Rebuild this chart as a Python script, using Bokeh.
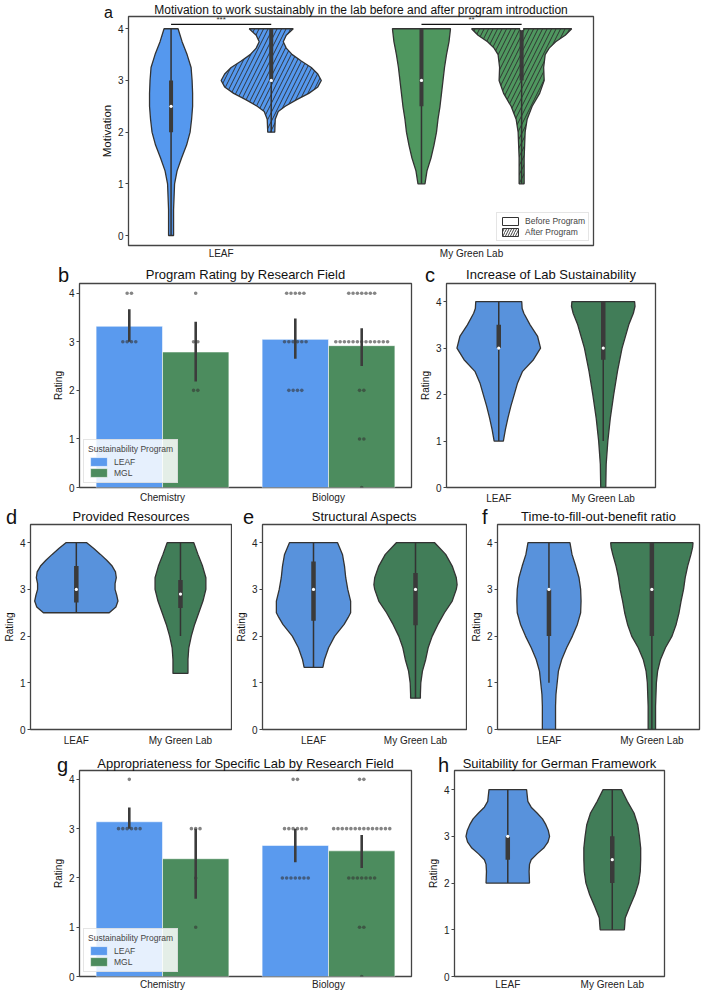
from bokeh.plotting import figure
from bokeh.models import Range1d, FixedTicker, Legend, LegendItem, Div
from bokeh.layouts import column, row
from bokeh.embed import file_html
from bokeh.resources import INLINE
from bokeh.core.properties import value

# ---------------- data ----------------
RATING_TICKS = [0, 1, 2, 3, 4]
VIOLIN_CATS = ["LEAF", "My Green Lab"]
BAR_FIELDS = ["Chemistry", "Biology"]
PROGRAMS = ["LEAF", "MGL"]
PHASES = ["Before Program", "After Program"]
PANEL_LETTERS = ["a", "b", "c", "d", "e", "f", "g", "h"]

# violin outlines: (rating, relative density width)
A_LEAF_BEFORE = [(0.0, .05), (0.5, .05), (0.75, .06), (1.0, .07), (1.25, .12), (1.5, .21), (1.75, .31),
                 (2.0, .38), (2.25, .41), (2.5, .43), (2.75, .43), (3.0, .42), (3.25, .40), (3.5, .32),
                 (3.75, .22), (4.0, .14)]
A_LEAF_AFTER = [(2.0, .07), (2.25, .08), (2.4, .14), (2.5, .28), (2.625, .5), (2.75, .75), (2.875, .93),
                (3.0, 1.0), (3.125, .93), (3.25, .8), (3.375, .6), (3.5, .42), (3.625, .3), (3.75, .24),
                (3.875, .3), (4.0, .44)]
A_MGL_BEFORE = [(1.0, .07), (1.25, .11), (1.5, .19), (1.75, .25), (2.0, .30), (2.25, .33), (2.5, .37),
                (2.75, .40), (3.0, .43), (3.25, .46), (3.5, .50), (3.75, .55), (4.0, .58)]
A_MGL_AFTER = [(1.0, .05), (1.5, .05), (1.75, .06), (2.0, .07), (2.25, .11), (2.5, .21), (2.75, .36),
               (3.0, .45), (3.25, .44), (3.5, .47), (3.625, .55), (3.75, .68), (3.875, .87), (4.0, 1.0)]
# inner box stats: (whisker low, q1, median, q3, whisker high)
A_BOX = [[(0, 2, 2.5, 3, 4), (2, 3, 3, 4, 4)],
         [(1, 2.5, 3, 4, 4), (1, 3, 4, 4, 4)]]
SIG_LABELS = ["***", "**"]

C_LEAF = [(1.0, .11), (1.25, .16), (1.5, .22), (1.75, .29), (2.0, .37), (2.25, .45), (2.5, .57), (2.75, .83),
          (3.0, 1.0), (3.25, .93), (3.5, .75), (3.75, .6), (3.85, .56), (4.0, .55)]
C_MGL = [(0.0, .06), (0.5, .07), (1.0, .11), (1.5, .17), (2.0, .25), (2.5, .34), (3.0, .45), (3.5, .61),
         (3.75, .72), (3.9, .76), (4.0, .75)]
C_BOX = [(1, 3, 3, 3.5, 4), (1, 2.75, 3, 4, 4)]

D_LEAF = [(2.5, .79), (2.625, .95), (2.75, 1.0), (2.875, .97), (3.0, .93), (3.125, .93), (3.25, .96),
          (3.375, .94), (3.5, .86), (3.625, .73), (3.75, .58), (3.875, .42), (4.0, .25)]
D_MGL = [(1.2, .18), (1.5, .18), (1.75, .2), (2.0, .26), (2.25, .34), (2.5, .44), (2.75, .54), (3.0, .61),
         (3.25, .61), (3.5, .53), (3.75, .42), (4.0, .32)]
D_BOX = [(2.5, 2.72, 3.0, 3.5, 4.0), (2.0, 2.6, 2.9, 3.2, 4.0)]

E_LEAF = [(1.33, .23), (1.5, .27), (1.75, .37), (2.0, .52), (2.25, .75), (2.4, .85), (2.5, .91), (2.75, .91),
          (3.0, .84), (3.25, .79), (3.5, .76), (3.75, .71), (4.0, .59)]
E_MGL = [(0.67, .12), (0.75, .12), (1.0, .13), (1.25, .17), (1.5, .25), (1.75, .31), (2.0, .41), (2.25, .55),
         (2.5, .71), (2.75, .9), (3.0, 1.0), (3.1, 1.02), (3.25, 1.0), (3.5, .9), (3.75, .74), (4.0, .47)]
E_BOX = [(1.33, 2.33, 3.0, 3.6, 4.0), (0.67, 2.23, 3.0, 3.35, 4.0)]

F_LEAF = [(0.0, .16), (0.5, .16), (0.75, .17), (1.0, .2), (1.25, .23), (1.5, .31), (1.75, .43), (2.0, .57),
          (2.25, .69), (2.5, .77), (2.75, .78), (3.0, .77), (3.25, .73), (3.5, .65), (3.75, .56), (4.0, .51)]
F_MGL = [(0.0, .09), (0.5, .09), (1.0, .11), (1.25, .14), (1.5, .21), (1.75, .33), (2.0, .49), (2.25, .59),
         (2.5, .66), (2.75, .71), (3.0, .77), (3.25, .81), (3.5, .87), (3.75, .95), (3.9, .99), (4.0, 1.0)]
F_BOX = [(1, 2, 3, 3, 4), (0, 2, 3, 4, 4)]

H_LEAF = [(2.0, .52), (2.25, .51), (2.4, .52), (2.5, .56), (2.625, .7), (2.75, .86), (2.875, .96), (3.0, 1.0),
          (3.125, .97), (3.25, .91), (3.375, .83), (3.5, .7), (3.625, .56), (3.75, .48), (4.0, .45)]
H_MGL = [(1.0, .29), (1.25, .31), (1.5, .42), (1.75, .54), (2.0, .63), (2.25, .67), (2.5, .68), (2.75, .68),
         (3.0, .65), (3.25, .61), (3.5, .52), (3.75, .36), (4.0, .22)]
H_BOX = [(2, 2.5, 3, 3, 4), (1, 2, 2.5, 3, 4)]

# bar panels: counts of answers per rating (0..4) for each research field
B_LEAF_COUNTS = [[0, 0, 0, 4, 2], [0, 0, 4, 6, 5]]
B_MGL_COUNTS = [[0, 0, 2, 2, 1], [1, 2, 2, 13, 7]]
B_LEAF_MEAN = [3.32, 3.05]
B_MGL_MEAN = [2.79, 2.92]
B_LEAF_CI = [(3.0, 3.67), (2.65, 3.48)]
B_MGL_CI = [(2.18, 3.41), (2.5, 3.28)]

G_LEAF_COUNTS = [[0, 0, 0, 6, 1], [0, 0, 7, 6, 2]]
G_MGL_COUNTS = [[0, 1, 1, 3, 0], [1, 2, 7, 14, 2]]
G_LEAF_MEAN = [3.14, 2.66]
G_MGL_MEAN = [2.39, 2.55]
G_LEAF_CI = [(3.0, 3.43), (2.32, 3.0)]
G_MGL_CI = [(1.58, 3.0), (2.2, 2.87)]

# ---------------- style ----------------
FONT = "Liberation Sans"
BLUE_A, GREEN_A = "#5598EE", "#4F975F"
BLUE_V, GREEN_V = "#5892DC", "#417D58"
BLUE_B, GREEN_B = "#5A9AEE", "#4C8C5E"
EDGE = "#333333"
NAN = float("nan")


def make_fig(width, height, xr, yr, borders, title, title_size, standoff, ylabel, xlabels,
             ylab_size="10px", xstandoff=5):
    l, r, t, b = borders
    p = figure(width=width, height=height, x_range=Range1d(*xr), y_range=Range1d(*yr),
               output_backend="svg", toolbar_location=None,
               min_border_left=l, min_border_right=r, min_border_top=t, min_border_bottom=b)
    p.title.text = title
    p.title.align = "center"
    p.title.text_font = FONT
    p.title.text_font_size = title_size
    p.title.text_font_style = "normal"
    p.title.text_color = "#111111"
    p.title.standoff = standoff
    p.xgrid.visible = False
    p.ygrid.visible = False
    p.outline_line_color = "#444444"
    p.outline_line_width = 1.3
    p.background_fill_color = "white"
    p.border_fill_color = "white"
    xt = list(range(len(xlabels)))
    p.xaxis.ticker = FixedTicker(ticks=xt, minor_ticks=[])
    p.xaxis.major_label_overrides = {i: lab for i, lab in zip(xt, xlabels)}
    p.yaxis.ticker = FixedTicker(ticks=RATING_TICKS, minor_ticks=[])
    for ax in (p.xaxis[0], p.yaxis[0]):
        ax.axis_line_color = None
        ax.major_label_text_font = FONT
        ax.major_label_text_font_size = "10px"
        ax.major_label_text_color = "#222222"
        ax.minor_tick_line_color = None
        ax.major_tick_in = 0
    p.xaxis.major_tick_out = 0
    p.xaxis.major_tick_line_color = None
    p.xaxis.major_label_standoff = xstandoff
    p.yaxis.major_tick_out = 3
    p.yaxis.major_tick_line_color = "#444444"
    p.yaxis.major_label_standoff = 2
    p.yaxis.axis_label = ylabel
    p.yaxis.axis_label_text_font = FONT
    p.yaxis.axis_label_text_font_size = ylab_size
    p.yaxis.axis_label_text_font_style = "normal"
    p.yaxis.axis_label_text_color = "#111111"
    p.yaxis.axis_label_standoff = 2
    return p


def draw_violin(p, center, profile, scale, color, hatch=False):
    ys = [y for y, w in profile]
    ws = [w for y, w in profile]
    xs = [center - w * scale for w in ws] + [center + w * scale for w in reversed(ws)]
    yy = ys + ys[::-1]
    kw = dict(fill_color=color, line_color=EDGE, line_width=1.3)
    if hatch:
        kw.update(hatch_pattern="/", hatch_color="#2a2a2a", hatch_scale=9, hatch_weight=0.9)
    p.patch(xs, yy, **kw)


def draw_box(p, center, stats, thick=4.5):
    wlo, q1, med, q3, whi = stats
    p.segment(x0=[center], y0=[wlo], x1=[center], y1=[whi], line_color=EDGE, line_width=1.5)
    p.segment(x0=[center], y0=[q1], x1=[center], y1=[q3], line_color="#3a3a3a", line_width=thick,
              line_cap="butt")
    p.scatter([center], [med], size=3.2, fill_color="white", line_color=None)


def violin_panel(width, height, borders, xr, yr, title, profiles, boxes, title_size="13px", standoff=0):
    p = make_fig(width, height, xr, yr, borders, title, title_size, standoff, "Rating", VIOLIN_CATS)
    for i, (prof, box, col) in enumerate(zip(profiles, boxes, [BLUE_V, GREEN_V])):
        draw_violin(p, i, prof, 0.4, col)
        draw_box(p, i, box)
    return p


def bar_panel(width, height, borders, yr, title, counts, means, cis, standoff, title_size="13px", xstandoff=4):
    p = make_fig(width, height, (-0.5, 1.5), yr, borders, title, title_size, standoff, "Rating", BAR_FIELDS,
                 xstandoff=xstandoff)
    offs = [-0.2, 0.2]
    rends = []
    for j, (col, mean) in enumerate(zip([BLUE_B, GREEN_B], means)):
        xs = [i + offs[j] for i in range(len(BAR_FIELDS))]
        r = p.vbar(x=xs, top=mean, width=0.4, fill_color=col, line_color="white", line_width=0.8, line_alpha=0.7)
        rends.append(r)
    step = 0.026
    for j, cnts in enumerate(counts):
        dxs, dys = [], []
        for i, per_rating in enumerate(cnts):
            for rating, n in zip(RATING_TICKS, per_rating):
                for k in range(n):
                    dxs.append(i + offs[j] + (k - (n - 1) / 2) * step)
                    dys.append(rating)
        p.scatter(dxs, dys, size=3.6, fill_color="#333333", fill_alpha=0.6, line_color=None)
    for j, ci in enumerate(cis):
        xs = [i + offs[j] for i in range(len(BAR_FIELDS))]
        p.segment(x0=xs, y0=[c[0] for c in ci], x1=xs, y1=[c[1] for c in ci], line_color="#3c3c3c",
                  line_width=2.6)
    leg = Legend(items=[LegendItem(label=lab, renderers=[r]) for lab, r in zip(PROGRAMS, rends)],
                 location="bottom_left", title="Sustainability Program")
    leg.title_text_font = FONT
    leg.title_text_font_size = "8.5px"
    leg.title_text_font_style = "normal"
    leg.title_standoff = 2
    leg.label_text_font = FONT
    leg.label_text_font_size = "8.5px"
    leg.glyph_width = 21
    leg.glyph_height = 11
    leg.label_height = 11
    leg.label_standoff = 5
    leg.spacing = 0
    leg.padding = 4
    leg.margin = 4
    leg.border_line_color = "#cccccc"
    leg.background_fill_alpha = 0.85
    p.add_layout(leg)
    return p


# ---------------- panel a ----------------
pa = make_fig(704, 262, (-0.37, 1.487), (-0.193, 4.237), (128, 111, 15, 17),
              "Motivation to work sustainably in the lab before and after program introduction",
              "12px", 0, "Motivation", VIOLIN_CATS, ylab_size="11.5px", xstandoff=2)
a_profiles = [[A_LEAF_BEFORE, A_LEAF_AFTER], [A_MGL_BEFORE, A_MGL_AFTER]]
for i, col in enumerate([BLUE_A, GREEN_A]):
    for k, off in enumerate([-0.2, 0.2]):
        draw_violin(pa, i + off, a_profiles[i][k], 0.2, col, hatch=(k == 1))
        draw_box(pa, i + off, A_BOX[i][k], thick=4)
sig_y = 4.085
pa.segment(x0=[i - 0.2 for i in range(2)], y0=[sig_y] * 2, x1=[i + 0.2 for i in range(2)], y1=[sig_y] * 2,
           line_color="#111111", line_width=1.4)
pa.text(x=[0, 1], y=[4.17] * 2, text=SIG_LABELS, text_font=value(FONT), text_font_size=value("8px"),
        text_align="center", text_baseline="middle", text_color="#333333")
r_before = pa.quad(left=[NAN], right=[NAN], top=[NAN], bottom=[NAN], fill_color="white", line_color=EDGE,
                   line_width=1)
r_after = pa.quad(left=[NAN], right=[NAN], top=[NAN], bottom=[NAN], fill_color="white", line_color=EDGE,
                  line_width=1, hatch_pattern="/", hatch_color="#2a2a2a", hatch_scale=5, hatch_weight=0.9)
lega = Legend(items=[LegendItem(label=PHASES[0], renderers=[r_before]),
                     LegendItem(label=PHASES[1], renderers=[r_after])], location="bottom_right")
lega.label_text_font = FONT
lega.label_text_font_size = "8.5px"
lega.glyph_width = 20
lega.glyph_height = 10
lega.label_height = 10
lega.label_standoff = 5
lega.spacing = 1
lega.padding = 3
lega.margin = 4
lega.border_line_color = "#cccccc"
pa.add_layout(lega)

# ---------------- row b / c ----------------
pb = bar_panel(415, 244, (79, 4, 21, 18), (0, 4.2), "Program Rating by Research Field",
               [B_LEAF_COUNTS, B_MGL_COUNTS], [B_LEAF_MEAN, B_MGL_MEAN], [B_LEAF_CI, B_MGL_CI], 3)
pc = violin_panel(289, 244, (31, 49, 21, 18), (-0.5, 1.5), (0, 4.39), "Increase of Lab Sustainability",
                  [C_LEAF, C_MGL], C_BOX, standoff=3)

# ---------------- row d / e / f ----------------
pd_ = violin_panel(232, 247, (28, 1, 18, 24), (-0.44, 1.49), (0, 4.39), "Provided Resources",
                   [D_LEAF, D_MGL], D_BOX, standoff=1)
pe = violin_panel(235, 247, (25, 1, 18, 24), (-0.5, 1.5), (0, 4.39), "Structural Aspects",
                  [E_LEAF, E_MGL], E_BOX, standoff=1)
pf = violin_panel(237, 247, (27, 5, 18, 24), (-0.5, 1.463), (0, 4.39), "Time-to-fill-out-benefit ratio",
                  [F_LEAF, F_MGL], F_BOX, standoff=1)

# ---------------- row g / h ----------------
pg = bar_panel(413, 239, (79, 2, 17, 16), (0, 4.18), "Appropriateness for Specific Lab by Research Field",
               [G_LEAF_COUNTS, G_MGL_COUNTS], [G_LEAF_MEAN, G_MGL_MEAN], [G_LEAF_CI, G_MGL_CI], 0,
               xstandoff=2)
ph = violin_panel(291, 239, (41, 40, 17, 16), (-0.51, 1.5), (0, 4.41), "Suitability for German Framework",
                  [H_LEAF, H_MGL], H_BOX, standoff=0)
ph.xaxis.major_label_standoff = 2

# ---------------- panel letters (overlay) ----------------
letter_pos = [(99, 0, 16), (53, 260, 20), (420, 260, 20), (1, 502, 20), (238, 502, 20), (477, 502, 20),
              (52, 750, 20), (433, 750, 20)]
spans = "".join(
    '<span style="position:absolute;left:%dpx;top:%dpx;font-family:\'%s\';font-size:%dpx;line-height:1;'
    'color:#111">%s</span>' % (x, y, FONT, s, t) for t, (x, y, s) in zip(PANEL_LETTERS, letter_pos))
letters = Div(text=spans, width=704, height=990,
              styles={"position": "absolute", "left": "0px", "top": "0px", "z-index": "10",
                      "pointer-events": "none", "overflow": "visible"})

layout = column(row(pa), row(pb, pc), row(pd_, pe, pf), row(pg, ph), letters)
open("out.html", "w").write(file_html(layout, INLINE))
